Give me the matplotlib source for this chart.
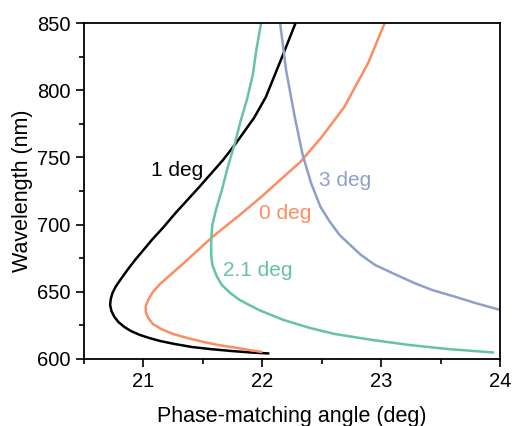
import matplotlib.pyplot as plt

# phase-matching curves (angle in deg, wavelength in nm)
ang_1deg = [22.28, 22.18, 22.03, 21.93, 21.84, 21.78, 21.67, 21.47, 21.37, 21.27,
            21.17, 21.07, 21.00, 20.93, 20.865, 20.805, 20.765, 20.74, 20.725, 20.72,
            20.731, 20.756, 20.79, 20.84, 20.895, 20.97, 21.05, 21.14, 21.26, 21.41,
            21.56, 21.74, 21.91, 22.06]
wl_1deg = [850, 827.7, 794.9, 779.3, 768.2, 760.7, 748.1, 728.0, 718.3, 708.6,
           698.2, 688.5, 681.1, 673.7, 666.2, 658.8, 653.6, 649.1, 644.6, 640.2,
           635.7, 631.25, 627.5, 623.8, 620.8, 617.9, 615.6, 613.4, 611.2, 608.9,
           607.4, 605.95, 604.8, 604.1]

ang_0deg = [23.03, 22.89, 22.69, 22.50, 22.32, 22.15, 21.99, 21.83, 21.58, 21.34,
            21.14, 21.08, 21.04, 21.02, 21.02, 21.04, 21.08, 21.15, 21.25, 21.37,
            21.51, 21.63, 21.79, 21.89, 22.00]
wl_0deg = [850, 820.2, 787.5, 765.2, 746.6, 733.2, 720.5, 708.6, 690.8, 671.4,
           655.8, 649.9, 643.9, 639.4, 635.0, 630.5, 626.0, 622.3, 618.6, 615.6,
           612.6, 610.4, 608.2, 606.7, 605.2]

ang_21deg = [21.99, 21.95, 21.92, 21.87, 21.82, 21.77, 21.71, 21.66, 21.61, 21.58,
             21.57, 21.57, 21.58, 21.62, 21.66, 21.73, 21.81, 21.97, 22.18, 22.40,
             22.61, 22.93, 23.24, 23.56, 23.95]
wl_21deg = [850, 829.9, 811.3, 792.7, 777.8, 760.7, 742.9, 725.7, 710.9, 699.7,
            688.5, 677.4, 669.9, 661.0, 655.1, 649.1, 643.9, 636.5, 629.0, 623.1,
            618.6, 614.1, 610.4, 607.4, 604.8]

ang_3deg = [22.15, 22.20, 22.27, 22.34, 22.41, 22.49, 22.57, 22.65, 22.74, 22.83,
            22.95, 23.13, 23.28, 23.43, 23.63, 23.79, 24.0]
wl_3deg = [850, 815.0, 781.5, 751.8, 731.0, 713.1, 701.9, 692.3, 684.8, 677.4,
           669.9, 662.5, 656.5, 651.3, 646.1, 641.7, 636.5]

curves = [
    (ang_1deg, wl_1deg, 'black', '1 deg', 21.28, 740),
    (ang_0deg, wl_0deg, '#fc8d62', '0 deg', 22.19, 708.5),
    (ang_21deg, wl_21deg, '#66c2a5', '2.1 deg', 21.96, 666),
    (ang_3deg, wl_3deg, '#8da0cb', '3 deg', 22.70, 733),
]

plt.rcParams['font.family'] = ['Liberation Sans', 'DejaVu Sans']

fig = plt.figure(figsize=(5.13, 4.26), dpi=100)
ax = fig.add_axes([0.1637, 0.1573, 0.811, 0.7887])

for x, y, c, lab, tx, ty in curves:
    ax.plot(x, y, color=c, lw=1.8, solid_joinstyle='round', solid_capstyle='butt')
    ax.text(tx, ty, lab, color=c, fontsize=15, ha='center', va='center')

ax.set_xlim(20.5, 24)
ax.set_ylim(600, 850)
ax.set_xticks([21, 22, 23, 24])
ax.set_xticks([20.5, 21.5, 22.5, 23.5], minor=True)
ax.set_yticks([600, 650, 700, 750, 800, 850])
ax.set_yticks([625, 675, 725, 775, 825], minor=True)
ax.tick_params(which='major', direction='out', length=6, width=1.2, labelsize=14.5)
ax.tick_params(which='minor', direction='out', length=3.5, width=1.2)
for s in ax.spines.values():
    s.set_linewidth(1.3)

ax.set_xlabel('Phase-matching angle (deg)', fontsize=15.5, labelpad=11)
ax.set_ylabel('Wavelength (nm)', fontsize=15.5, labelpad=3)

fig.savefig('out.png', dpi=100)
